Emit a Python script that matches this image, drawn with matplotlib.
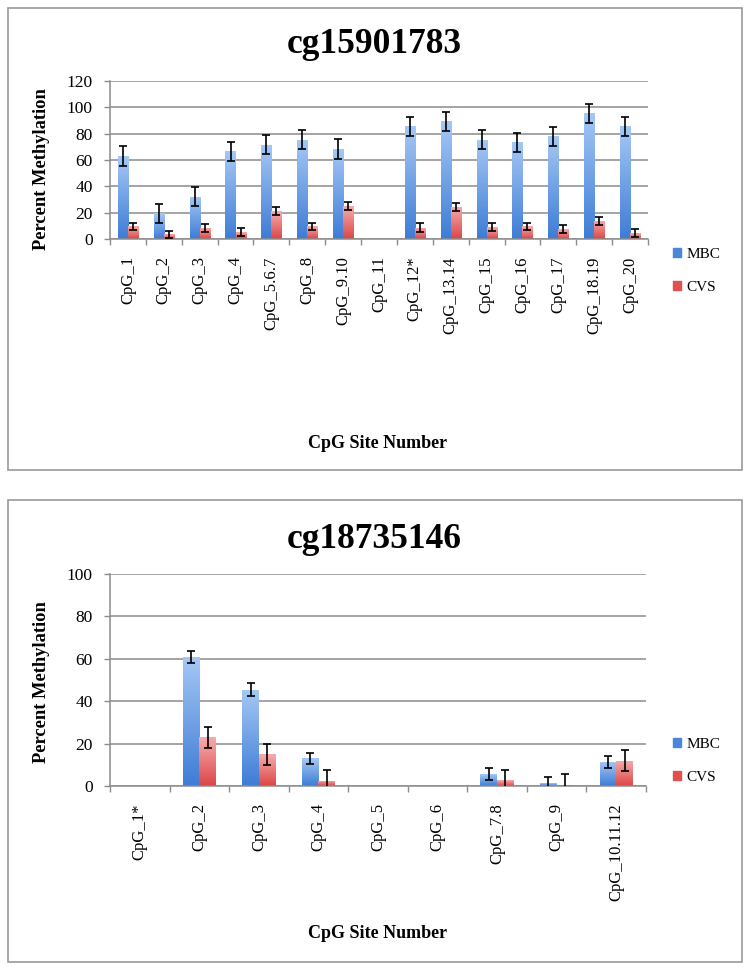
import numpy as np
import matplotlib
matplotlib.use('Agg')
import matplotlib.pyplot as plt
from matplotlib.patches import Rectangle, Patch
from matplotlib.colors import to_rgb

plt.rcParams['font.family'] = 'Liberation Serif'

nan = np.nan

# panel 1: cg15901783
sites_a = ['CpG_1', 'CpG_2', 'CpG_3', 'CpG_4', 'CpG_5.6.7', 'CpG_8', 'CpG_9.10', 'CpG_11',
           'CpG_12*', 'CpG_13.14', 'CpG_15', 'CpG_16', 'CpG_17', 'CpG_18.19', 'CpG_20']
mbc_a = [63, 19.5, 32, 66.5, 71.5, 75.5, 68.5, nan, 85.5, 89.5, 75.5, 73.5, 78, 95.5, 85.5]
mbc_a_err = [7.5, 7.3, 7.3, 7.3, 7.3, 7.3, 7.5, nan, 7.3, 7.3, 7.3, 7.3, 7.3, 7.3, 7.3]
cvs_a = [9.5, 3.5, 8.5, 5, 21, 9.5, 25, nan, 8.5, 24.5, 9, 9.5, 7.5, 14, 4.5]
cvs_a_err = [3, 2.8, 3.2, 3, 3, 3, 3, nan, 3.3, 3, 3.2, 3, 3, 3, 3]

# panel 2: cg18735146
sites_b = ['CpG_1*', 'CpG_2', 'CpG_3', 'CpG_4', 'CpG_5', 'CpG_6', 'CpG_7.8', 'CpG_9', 'CpG_10.11.12']
mbc_b = [nan, 61, 45.5, 13, nan, nan, 5.5, 1.3, 11.5]
mbc_b_err = [nan, 2.9, 2.9, 2.8, nan, nan, 2.8, 2.9, 2.8]
cvs_b = [nan, 23, 15, 2.5, nan, nan, 2.7, 0.5, 12]
cvs_b_err = [nan, 5, 5, 5, nan, nan, 5, 5, 5]

BLUE = ('#a6c8f5', '#3d7cd6', '#4a86dc')   # top, bottom, legend
RED = ('#f6acac', '#dc4646', '#e05050')
GRID = '#8c8c8c'

W, H = 751, 971
fig = plt.figure(figsize=(W/100, H/100), dpi=100)


def px(x0, y0, x1, y1):
    # pixel box (from top-left) -> figure fraction rect
    return [x0/W, 1 - y1/H, (x1 - x0)/W, (y1 - y0)/H]


def gradient(ax, bars, cols):
    c = np.linspace(0, 1, 128)[:, None, None]
    img = (1 - c)*np.array(to_rgb(cols[0])) + c*np.array(to_rgb(cols[1]))
    for b in bars:
        h = b.get_height()
        if not np.isfinite(h) or h <= 0:
            continue
        x0 = b.get_x()
        im = ax.imshow(img, extent=(x0, x0 + b.get_width(), 0, h), origin='upper',
                       aspect='auto', zorder=2.5, interpolation='bilinear')
        im.set_clip_path(b)


def panel(box, title, sites, mbc, mbc_err, cvs, cvs_err, ymax, ystep,
          frame, title_y, xlab_y, ylab_y, leg_y):
    fig.add_artist(Rectangle((frame[0]/W, 1 - frame[3]/H), (frame[2] - frame[0])/W,
                             (frame[3] - frame[1])/H, transform=fig.transFigure,
                             fill=False, ec='#9a9a9a', lw=1.2))
    ax = fig.add_axes(px(*box))
    n = len(sites)
    x = np.arange(n)
    bw = 0.28
    b1 = ax.bar(x - bw/2, mbc, bw, color=BLUE[2], zorder=2)
    b2 = ax.bar(x + bw/2, cvs, bw, color=RED[2], zorder=2)
    gradient(ax, b1, BLUE)
    gradient(ax, b2, RED)
    ax.errorbar(x - bw/2, mbc, yerr=mbc_err, fmt='none', ecolor='black', elinewidth=1.2,
                capsize=3, capthick=1.2, zorder=4)
    ax.errorbar(x + bw/2, cvs, yerr=cvs_err, fmt='none', ecolor='black', elinewidth=1.2,
                capsize=3, capthick=1.2, zorder=4)

    ax.set_xlim(-0.5, n - 0.5)
    ax.set_ylim(0, ymax)
    ax.set_yticks(np.arange(0, ymax + 1, ystep))
    ax.yaxis.grid(True, color=GRID, lw=1.1)
    ax.set_axisbelow(True)
    ax.set_xticks(x)
    ax.set_xticklabels(sites, rotation=90, fontsize=12)
    ax.set_xticks(np.arange(n + 1) - 0.5, minor=True)
    ax.tick_params(axis='x', which='major', length=0, pad=12.5)
    ax.tick_params(axis='x', which='minor', length=4.5, color=GRID, width=1)
    ax.tick_params(axis='y', length=4, color=GRID, width=1, pad=8.5, labelsize=12.5)
    for s in ['top', 'right']:
        ax.spines[s].set_visible(False)
    for s in ['left', 'bottom']:
        ax.spines[s].set_color(GRID)
        ax.spines[s].set_linewidth(1.1)

    fig.text(374/W, 1 - title_y/H, title, fontsize=25.5, fontweight='bold',
             ha='center', va='baseline')
    fig.text(378/W, 1 - xlab_y/H, 'CpG Site Number', fontsize=13, fontweight='bold',
             ha='center', va='center')
    fig.text(42/W, 1 - ylab_y/H, 'Percent Methylation', fontsize=13.3, fontweight='bold',
             ha='center', va='center', rotation=90)
    handles = [Patch(color=BLUE[2]), Patch(color=RED[2])]
    fig.legend(handles, ['MBC', 'CVS'], loc='center left',
               bbox_to_anchor=(665/W, 1 - leg_y/H), frameon=False, fontsize=11,
               handlelength=0.55, handleheight=0.55, handletextpad=0.35,
               labelspacing=1.3, borderpad=0)
    return ax


panel((110, 81, 648, 239), 'cg15901783', sites_a, mbc_a, mbc_a_err, cvs_a, cvs_a_err,
      120, 20, (8, 8, 742, 470), 53, 443, 169, 271)
panel((110, 574, 646, 786), 'cg18735146', sites_b, mbc_b, mbc_b_err, cvs_b, cvs_b_err,
      100, 20, (8, 500, 742, 962), 548, 933, 682, 761)

fig.savefig('out.png', dpi=100)
